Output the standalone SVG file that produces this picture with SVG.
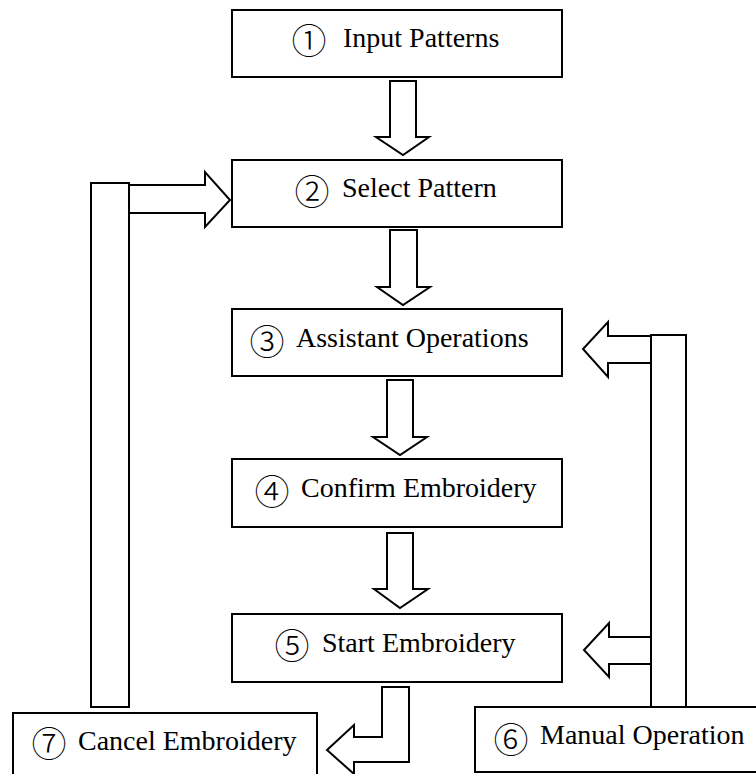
<svg xmlns="http://www.w3.org/2000/svg" width="756" height="774" viewBox="0 0 756 774">
<style>
.box{fill:#fff;stroke:#000;stroke-width:2}
.arr{fill:#fff;stroke:#000;stroke-width:2;stroke-linejoin:miter}
.num{font-size:35px;font-weight:300;fill:#000;text-anchor:middle;dominant-baseline:central}
.lbl{font-size:28px;fill:#000}
</style>
<rect width="756" height="774" fill="#fff"/>
<g id="connectors">
<polygon class="arr" points="390,81 416,81 416,137 429,137 403,155 376,137 390,137"/>
<polygon class="arr" points="390,230 417,230 417,287 430,287 403,305 377,287 390,287"/>
<polygon class="arr" points="387,380 413,380 413,437 427,437 400,455 373,437 387,437"/>
<polygon class="arr" points="387,533 413,533 413,589 428,589 400,608 374,589 387,589"/>
<rect class="arr" x="91" y="183" width="38" height="524"/>
<polygon class="arr" points="129,185 205,185 205,172 230,200 205,227 205,213 129,213"/>
<rect class="arr" x="651" y="335" width="35" height="372"/>
<polygon class="arr" points="651,336 608,336 608,322 583,349 608,377 608,363 651,363"/>
<polygon class="arr" points="651,637 609,637 609,623 584,650 609,677 609,664 651,664"/>
<polygon class="arr" points="382,687 409,687 409,762 354,762 354,774 327,750 354,725 354,737 382,737"/>
</g>
<g id="n1">
<rect class="box" x="232" y="10" width="330" height="67"/>
<text class="num" font-family="'Noto Sans CJK JP','Noto Sans CJK SC',sans-serif" x="309" y="38">①</text>
<text class="lbl" font-family="'Liberation Serif','DejaVu Serif',serif" x="343" y="47">Input Patterns</text>
</g>
<g id="n2">
<rect class="box" x="232" y="160" width="330" height="67"/>
<text class="num" font-family="'Noto Sans CJK JP','Noto Sans CJK SC',sans-serif" x="312" y="189">②</text>
<text class="lbl" font-family="'Liberation Serif','DejaVu Serif',serif" x="342" y="197">Select Pattern</text>
</g>
<g id="n3">
<rect class="box" x="232" y="309" width="330" height="67"/>
<text class="num" font-family="'Noto Sans CJK JP','Noto Sans CJK SC',sans-serif" x="267" y="339">③</text>
<text class="lbl" font-family="'Liberation Serif','DejaVu Serif',serif" x="296" y="347">Assistant Operations</text>
</g>
<g id="n4">
<rect class="box" x="232" y="459" width="330" height="68"/>
<text class="num" font-family="'Noto Sans CJK JP','Noto Sans CJK SC',sans-serif" x="272" y="489">④</text>
<text class="lbl" font-family="'Liberation Serif','DejaVu Serif',serif" x="301" y="497">Confirm Embroidery</text>
</g>
<g id="n5">
<rect class="box" x="232" y="614" width="330" height="68"/>
<text class="num" font-family="'Noto Sans CJK JP','Noto Sans CJK SC',sans-serif" x="292" y="643">⑤</text>
<text class="lbl" font-family="'Liberation Serif','DejaVu Serif',serif" x="322" y="652">Start Embroidery</text>
</g>
<g id="n6">
<rect class="box" x="475" y="707" width="290" height="65"/>
<text class="num" font-family="'Noto Sans CJK JP','Noto Sans CJK SC',sans-serif" x="511" y="737">⑥</text>
<text class="lbl" font-family="'Liberation Serif','DejaVu Serif',serif" x="540" y="744">Manual Operation</text>
</g>
<g id="n7">
<rect class="box" x="13" y="713" width="304" height="70"/>
<text class="num" font-family="'Noto Sans CJK JP','Noto Sans CJK SC',sans-serif" x="49" y="741">⑦</text>
<text class="lbl" font-family="'Liberation Serif','DejaVu Serif',serif" x="78" y="750">Cancel Embroidery</text>
</g>
</svg>
